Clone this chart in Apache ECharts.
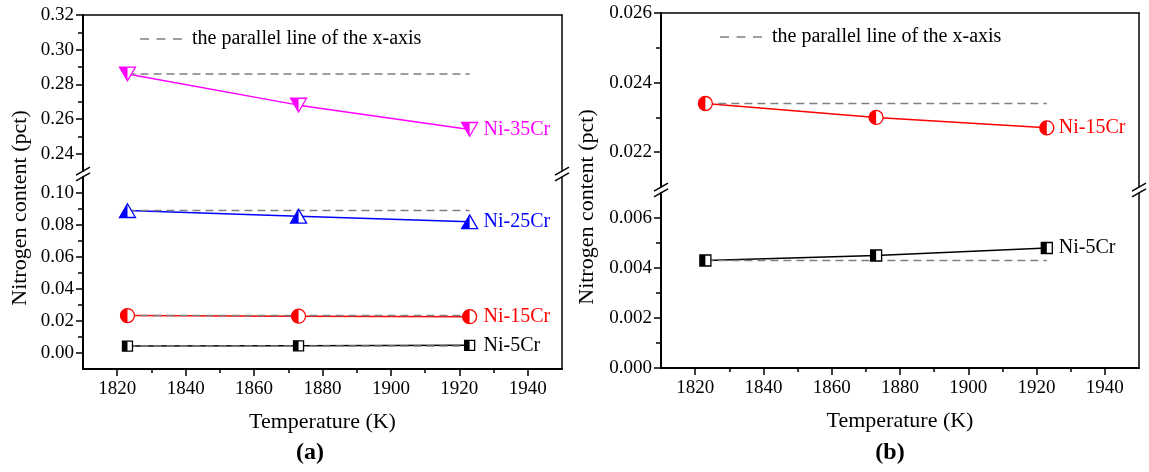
<!DOCTYPE html>
<html><head><meta charset="utf-8">
<script src="https://cdn.jsdelivr.net/npm/echarts@6/dist/echarts.min.js"></script>
<style>html,body{margin:0;padding:0;background:#fff}#c{width:1149px;height:472px}</style>
</head><body><div id="c"></div>
<script>
// ---- data ----
const temperatures = [1823, 1873, 1923];
const ni5Cr  = [0.0043, 0.0045, 0.0048];
const ni15Cr = [0.0234, 0.0230, 0.0227];
const ni25Cr = [0.0890, 0.0855, 0.0820];
const ni35Cr = [0.2860, 0.2680, 0.2540];
const xTicksMajor = [1820, 1840, 1860, 1880, 1900, 1920, 1940];
const xTicksMinor = [1830, 1850, 1870, 1890, 1910, 1930];
const aUpperMajor = [0.24, 0.26, 0.28, 0.30, 0.32];
const aUpperMinor = [0.25, 0.27, 0.29, 0.31];
const aLowerMajor = [0.00, 0.02, 0.04, 0.06, 0.08, 0.10];
const aLowerMinor = [0.01, 0.03, 0.05, 0.07, 0.09];
const bUpperMajor = [0.022, 0.024, 0.026];
const bUpperMinor = [0.023, 0.025];
const bLowerMajor = [0.000, 0.002, 0.004, 0.006];
const bLowerMinor = [0.001, 0.003, 0.005];
const legendLabel = 'the parallel line of the x-axis';
const xTitle = 'Temperature (K)';
const yTitle = 'Nitrogen content (pct)';
const panelTitles = ['(a)', '(b)'];

// ---- layout ----
const FONT = '"Liberation Serif","Times New Roman",serif';
const panels = [
  { left: 83, width: 479, upper: { top: 15, height: 156 }, lower: { top: 177, height: 192 },
    upperRange: [0.23, 0.32], lowerRange: [-0.01, 0.11], dec: 2,
    uMaj: aUpperMajor, uMin: aUpperMinor, lMaj: aLowerMajor, lMin: aLowerMinor,
    legendLeft: 140, legendTop: 29, yTitleX: 20, yTitleY: 208, titleX: 310, labelDist: 14 },
  { left: 661, width: 478, upper: { top: 13, height: 174 }, lower: { top: 193, height: 175 },
    upperRange: [0.021, 0.026], lowerRange: [0, 0.007], dec: 3,
    uMaj: bUpperMajor, uMin: bUpperMinor, lMaj: bLowerMajor, lMin: bLowerMinor,
    legendLeft: 720, legendTop: 27, yTitleX: 587, yTitleY: 207, titleX: 890, labelDist: 12 }
];

const grids = [], xAxes = [], yAxes = [], series = [], legends = [], graphics = [];
const txt = { fontFamily: FONT, color: '#000' };
const dashIcon = 'path://M0,0h9v1.5h-9z M16.5,0h9v1.5h-9z M33,0h9v1.5h-9z';

panels.forEach((p, pi) => {
  grids.push({ left: p.left, width: p.width, top: p.upper.top, height: p.upper.height });
  grids.push({ left: p.left, width: p.width, top: p.lower.top, height: p.lower.height });
  const gU = pi * 2, gL = pi * 2 + 1;
  // x axes
  xAxes.push({ type: 'value', gridIndex: gU, position: 'top', min: 1810, max: 1950,
    axisLine: { show: true, onZero: false, lineStyle: { color: '#000', width: 1.5 } },
    axisTick: { show: false }, axisLabel: { show: false }, splitLine: { show: false } });
  xAxes.push({ type: 'value', gridIndex: gL, position: 'bottom', min: 1810, max: 1950,
    name: xTitle, nameLocation: 'middle', nameGap: 42,
    nameTextStyle: Object.assign({ fontSize: 22 }, txt),
    axisLine: { show: true, onZero: false, lineStyle: { color: '#000', width: 2 } },
    axisTick: { show: true, customValues: xTicksMajor, length: 7, lineStyle: { color: '#000', width: 1.5 } },
    axisLabel: Object.assign({ customValues: xTicksMajor, margin: 11, fontSize: 19, formatter: v => String(v) }, txt),
    splitLine: { show: false } });
  xAxes.push({ type: 'value', gridIndex: gL, position: 'bottom', min: 1810, max: 1950,
    axisLine: { show: false, onZero: false },
    axisTick: { show: true, customValues: xTicksMinor, length: 4, lineStyle: { color: '#000', width: 1.5 } },
    axisLabel: { show: false }, splitLine: { show: false } });
  // y axes
  [[gU, p.upperRange, p.uMaj, p.uMin], [gL, p.lowerRange, p.lMaj, p.lMin]].forEach(([g, r, maj, mn]) => {
    yAxes.push({ type: 'value', gridIndex: g, position: 'left', min: r[0], max: r[1],
      axisLine: { show: true, onZero: false, lineStyle: { color: '#000', width: 2 } },
      axisTick: { show: true, customValues: maj, length: 7, lineStyle: { color: '#000', width: 1.5 } },
      axisLabel: Object.assign({ customValues: maj, margin: 9, fontSize: 19,
        formatter: v => Number(v).toFixed(p.dec) }, txt),
      splitLine: { show: false } });
    yAxes.push({ type: 'value', gridIndex: g, position: 'left', min: r[0], max: r[1],
      axisLine: { show: false, onZero: false },
      axisTick: { show: true, customValues: mn, length: 5, lineStyle: { color: '#000', width: 1.5 } },
      axisLabel: { show: false }, splitLine: { show: false } });
    yAxes.push({ type: 'value', gridIndex: g, position: 'right', min: r[0], max: r[1],
      axisLine: { show: true, onZero: false, lineStyle: { color: '#000', width: 1.5 } },
      axisTick: { show: false }, axisLabel: { show: false }, splitLine: { show: false } });
  });
  legends.push({ data: [{ name: legendLabel, icon: dashIcon }], left: p.legendLeft, top: p.legendTop,
    padding: 0, itemWidth: 42, itemHeight: 2, selectedMode: false,
    textStyle: Object.assign({ fontSize: 20, padding: [0, 0, 0, 5] }, txt) });
  // titles
  graphics.push({ type: 'text', x: p.yTitleX, y: p.yTitleY, rotation: Math.PI / 2,
    style: { text: yTitle, font: '22px ' + FONT, fill: '#000', textAlign: 'center', textVerticalAlign: 'middle' } });
  graphics.push({ type: 'text', x: p.titleX, y: 453,
    style: { text: panelTitles[pi], font: 'bold 24px ' + FONT, fill: '#000', textAlign: 'center', textVerticalAlign: 'middle' } });
  // break marks
  const yMid = (p.upper.top + p.upper.height + p.lower.top) / 2;
  [p.left, p.left + p.width].forEach(x => {
    [-2.8, 2.8].forEach(d => {
      graphics.push({ type: 'line', shape: { x1: x - 7, y1: yMid + d + 4, x2: x + 7, y2: yMid + d - 4 },
        style: { stroke: '#000', lineWidth: 1.5 } });
    });
  });
});

function markerChildren(shape, color, s) {
  const sw = { stroke: color, lineWidth: 1.3 };
  if (shape === 'circle') {
    return [
      { type: 'circle', shape: { cx: 0, cy: 0, r: s / 2 }, style: Object.assign({ fill: '#fff' }, sw) },
      { type: 'sector', shape: { cx: 0, cy: 0, r0: 0, r: s / 2, startAngle: Math.PI / 2, endAngle: Math.PI * 1.5, clockwise: true },
        style: { fill: color } }
    ];
  }
  if (shape === 'square') {
    const h = s / 2;
    return [
      { type: 'rect', shape: { x: -h, y: -h, width: s, height: s }, style: Object.assign({ fill: '#fff' }, sw) },
      { type: 'rect', shape: { x: -h, y: -h, width: h, height: s }, style: { fill: color } }
    ];
  }
  const w = s / 2, hh = s * 0.43;
  if (shape === 'up') {
    return [
      { type: 'polygon', shape: { points: [[0, -hh], [w, hh], [-w, hh]] }, style: Object.assign({ fill: '#fff' }, sw) },
      { type: 'polygon', shape: { points: [[0, -hh], [0, hh], [-w, hh]] }, style: { fill: color } }
    ];
  }
  return [
    { type: 'polygon', shape: { points: [[-w, -hh], [w, -hh], [0, hh]] }, style: Object.assign({ fill: '#fff' }, sw) },
    { type: 'polygon', shape: { points: [[-w, -hh], [0, -hh], [0, hh]] }, style: { fill: color } }
  ];
}

function addAlloy(pi, part, name, values, color, shape, size) {
  const xi = pi * 3 + (part === 'upper' ? 0 : 1);
  const yi = pi * 6 + (part === 'upper' ? 0 : 3);
  const data = temperatures.map((t, i) => [t, values[i]]);
  series.push({ type: 'line', name: name, xAxisIndex: xi, yAxisIndex: yi, data: data, symbol: 'none',
    lineStyle: { color: color, width: 1.5 }, itemStyle: { color: color }, z: 2, silent: true,
    endLabel: { show: true, formatter: () => name, color: color, fontFamily: FONT, fontSize: 20, distance: panels[pi].labelDist } });
  series.push({ type: 'line', name: legendLabel, xAxisIndex: xi, yAxisIndex: yi,
    data: [[temperatures[0], values[0]], [temperatures[temperatures.length - 1], values[0]]], symbol: 'none',
    lineStyle: { color: '#808080', width: 1.5, type: [8, 5] }, itemStyle: { color: '#808080' }, z: 3, silent: true });
  series.push({ type: 'custom', name: name + ' marker', xAxisIndex: xi, yAxisIndex: yi, data: data, z: 4, clip: false, silent: true,
    renderItem: (params, api) => {
      const pt = api.coord([api.value(0), api.value(1)]);
      return { type: 'group', x: pt[0], y: pt[1], children: markerChildren(shape, color, size) };
    } });
}

addAlloy(0, 'upper', 'Ni-35Cr', ni35Cr, '#FF00FF', 'down', 16);
addAlloy(0, 'lower', 'Ni-25Cr', ni25Cr, '#0000FF', 'up', 16);
addAlloy(0, 'lower', 'Ni-15Cr', ni15Cr, '#FF0000', 'circle', 14);
addAlloy(0, 'lower', 'Ni-5Cr', ni5Cr, '#000000', 'square', 10);
addAlloy(1, 'upper', 'Ni-15Cr', ni15Cr, '#FF0000', 'circle', 14);
addAlloy(1, 'lower', 'Ni-5Cr', ni5Cr, '#000000', 'square', 11);

const chart = echarts.init(document.getElementById('c'), null, { renderer: 'canvas' });
chart.setOption({
  animation: false,
  backgroundColor: '#fff',
  grid: grids, xAxis: xAxes, yAxis: yAxes, series: series, legend: legends, graphic: graphics
});
</script></body></html>
